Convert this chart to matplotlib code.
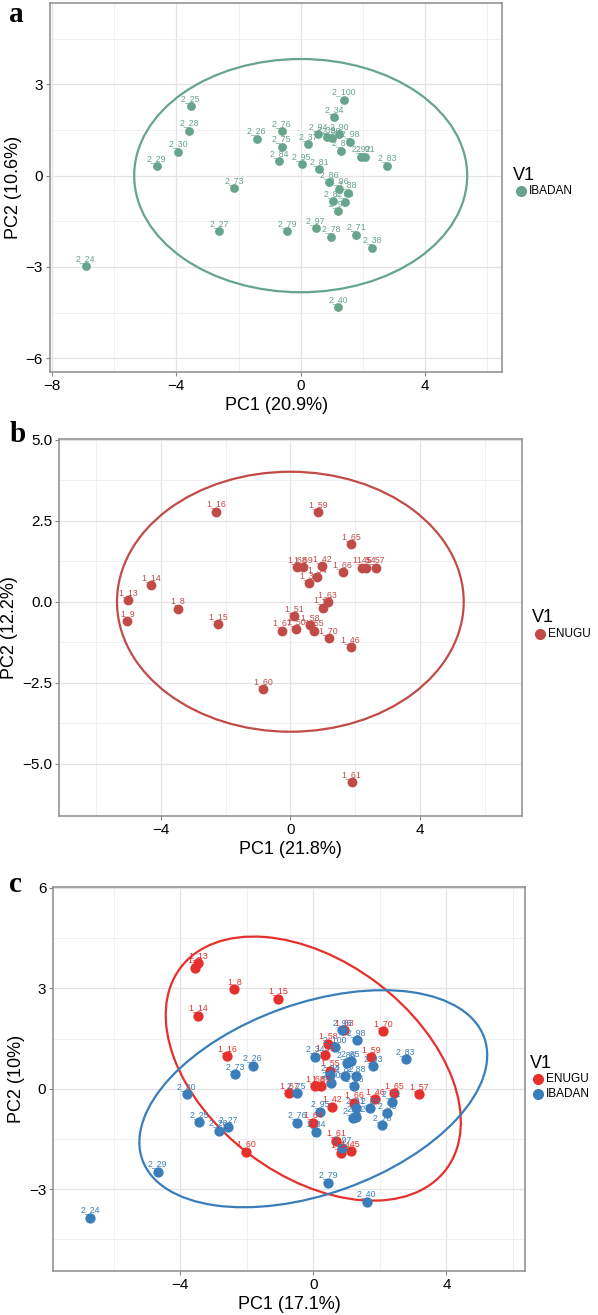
import numpy as np
import matplotlib
matplotlib.use("Agg")
import matplotlib.pyplot as plt
from matplotlib.patches import Ellipse
from matplotlib.lines import Line2D

plt.rcParams['font.family'] = ['Liberation Sans', 'DejaVu Sans']

# ---- panel a : IBADAN ----
a_labels = ['2_24', '2_25', '2_28', '2_30', '2_29', '2_73', '2_27', '2_26', '2_76', '2_75',
            '2_84', '2_79', '2_95', '2_81', '2_37', '2_94', '2_90', '2_39', '2_89', '2_98',
            '2_87', '2_100', '2_34', '2_92', '2_91', '2_83', '2_86', '2_96', '2_88', '2_82',
            '2_85', '2_93', '2_97', '2_78', '2_71', '2_38', '2_40']
a_pc1 = [-6.92, -3.54, -3.59, -3.94, -4.64, -2.14, -2.62, -1.42, -0.61, -0.61,
         -0.69, -0.43, 0.03, 0.59, 0.25, 0.57, 1.24, 0.84, 1.00, 1.59,
         1.30, 1.40, 1.08, 1.94, 2.07, 2.79, 0.92, 1.24, 1.51, 1.05,
         1.42, 1.21, 0.48, 0.98, 1.78, 2.31, 1.21]
a_pc2 = [-2.98, 2.29, 1.48, 0.79, 0.32, -0.41, -1.82, 1.21, 1.47, 0.95,
         0.48, -1.82, 0.37, 0.22, 1.04, 1.37, 1.37, 1.26, 1.24, 1.12,
         0.82, 2.49, 1.92, 0.62, 0.62, 0.33, -0.21, -0.43, -0.56, -0.84,
         -0.85, -1.17, -1.73, -2.00, -1.94, -2.37, -4.33]
a_ell = [0.0, 0.0, 5.36, 3.83, 0.0]   # centre x, centre y, semi-axis a, semi-axis b, angle

# ---- panel b : ENUGU ----
b_labels = ['1_16', '1_59', '1_65', '1_68', '1_69', '1_42', '1_34', '1_39', '1_66', '1_45',
            '1_54', '1_57', '1_63', '1_64', '1_51', '1_58', '1_55', '1_67', '1_50', '1_70',
            '1_46', '1_60', '1_61', '1_9', '1_13', '1_14', '1_8', '1_15']
b_pc1 = [-2.28, 0.86, 1.87, 0.22, 0.40, 0.97, 0.81, 0.58, 1.61, 2.20,
         2.35, 2.63, 1.15, 1.01, 0.12, 0.60, 0.73, -0.25, 0.18, 1.18,
         1.86, -0.83, 1.89, -5.03, -5.02, -4.31, -3.48, -2.22]
b_pc2 = [2.78, 2.76, 1.77, 1.06, 1.06, 1.10, 0.75, 0.57, 0.91, 1.05,
         1.05, 1.05, -0.02, -0.18, -0.44, -0.72, -0.89, -0.89, -0.85, -1.13,
         -1.41, -2.70, -5.57, -0.59, 0.05, 0.52, -0.21, -0.69]
b_ell = [0.0, 0.0, 5.35, 4.01, 0.0]

# ---- panel c : both sites ----
c_en_labels = ['1_13', '1_9', '1_8', '1_15', '1_14', '1_16', '1_60', '1_67', '1_70', '1_63',
               '1_59', '1_55', '1_68', '1_69', '1_42', '1_64', '1_66', '1_46', '1_65', '1_57',
               '1_61', '1_45', '1_54', '1_51', '1_58']
c_en_pc1 = [-3.45, -3.55, -2.37, -1.07, -3.45, -2.59, -2.03, -0.73, 2.10, 0.93,
            1.73, 0.50, 0.05, 0.23, 0.56, 0.00, 1.22, 1.86, 2.42, 3.17,
            0.68, 1.12, 0.82, 0.35, 0.45]
c_en_pc2 = [3.75, 3.62, 2.98, 2.69, 2.18, 0.98, -1.88, -0.14, 1.72, 1.75,
            0.94, 0.54, 0.08, 0.08, -0.54, -1.02, -0.42, -0.32, -0.14, -0.17,
            -1.55, -1.86, -1.91, 1.00, 1.35]
c_ib_labels = ['2_24', '2_29', '2_30', '2_25', '2_28', '2_27', '2_73', '2_26', '2_75', '2_76',
               '2_95', '2_84', '2_83', '2_93', '2_86', '2_85', '2_88', '2_82', '2_36', '2_96',
               '2_98', '2_97', '2_79', '2_40', '2_94', '2_90', '2_34', '2_100', '2_81', '2_92',
               '2_91', '2_89', '2_71', '2_38', '2_78']
c_ib_pc1 = [-6.71, -4.67, -3.80, -3.42, -2.84, -2.56, -2.35, -1.82, -0.50, -0.48,
            0.20, 0.08, 2.78, 1.80, 1.00, 1.12, 1.28, 0.94, 1.23, 0.87,
            1.30, 0.87, 0.45, 1.60, 0.50, 0.53, 0.05, 0.65, 1.28, 1.28,
            1.18, 1.70, 2.35, 2.22, 2.07]
c_ib_pc2 = [-3.86, -2.48, -0.16, -1.01, -1.26, -1.16, 0.44, 0.69, -0.14, -1.02,
            -0.69, -1.29, 0.89, 0.68, 0.78, 0.83, 0.38, 0.38, 0.08, 1.75,
            1.46, -1.76, -2.81, -3.38, 0.41, 0.18, 0.96, 1.25, -0.59, -0.84,
            -0.89, -0.59, -0.39, -0.74, -1.09]
c_en_ell = [0.0, 0.6, 5.0, 3.2, -37.0]
c_ib_ell = [0.0, -0.3, 5.45, 2.85, 19.5]

GREEN = '#66A48B'
BROWN_RED = '#C04B48'
RED = '#E5302B'
BLUE = '#3A7DBA'

W, H = 598, 1315
fig = plt.figure(figsize=(W / 100, H / 100), dpi=100)


def box(l, t, r, b):
    return [l / W, 1 - b / H, (r - l) / W, (b - t) / H]


def style(ax, xlim, ylim, xmaj, xmin, ymaj, ymin, yfmt):
    ax.set_xlim(xlim)
    ax.set_ylim(ylim)
    ax.set_xticks(xmaj)
    ax.set_xticks(xmin, minor=True)
    ax.set_yticks(ymaj)
    ax.set_yticks(ymin, minor=True)
    ax.set_xticklabels([('%g' % v).replace('-', '\u2212') for v in xmaj])
    ax.set_yticklabels([(yfmt % v).replace('-', '\u2212') for v in ymaj])
    ax.grid(True, which='major', color='#E3E3E8', lw=0.9)
    ax.grid(True, which='minor', color='#EEEEF2', lw=0.6)
    ax.set_axisbelow(True)
    ax.tick_params(which='major', length=3, width=0.8, color='#888888', labelsize=11, pad=2)
    ax.tick_params(which='minor', length=0)
    for s in ax.spines.values():
        s.set_color('#8C8C8C')
        s.set_linewidth(1.1)


def pts(ax, x, y, labels, color, size):
    ax.scatter(x, y, s=size, color=color, zorder=3, linewidths=0)
    for xi, yi, lab in zip(x, y, labels):
        ax.annotate(lab, (xi, yi), xytext=(0, 5.5), textcoords='offset points',
                    ha='center', va='center', fontsize=6.3, color=color, zorder=4)


def ell(ax, e, color):
    ax.add_patch(Ellipse((e[0], e[1]), 2 * e[2], 2 * e[3], angle=e[4],
                         fill=False, color=color, lw=1.6, zorder=2))


def legend(x, y, names, colors):
    fig.text(x / W, 1 - y / H, 'V1', fontsize=13, va='center', ha='left')
    for i, (n, c) in enumerate(zip(names, colors)):
        yy = y + 16 + 14.7 * i
        fig.add_artist(Line2D([(x + 8) / W], [1 - yy / H], marker='o', ms=7,
                              color=c, transform=fig.transFigure, lw=0))
        fig.text((x + 16) / W, 1 - yy / H, n, fontsize=8.5, va='center', ha='left')


# panel a
ax = fig.add_axes(box(50, 3.3, 502.3, 372))
style(ax, (-8.07, 6.49), (-6.45, 5.66), [-8, -4, 0, 4], [-6, -2, 2, 6],
      [-6, -3, 0, 3], [-4.5, -1.5, 1.5, 4.5], '%g')
ell(ax, a_ell, GREEN)
pts(ax, a_pc1, a_pc2, a_labels, GREEN, 40)
ax.set_xlabel('PC1 (20.9%)', fontsize=13, labelpad=3)
ax.set_ylabel('PC2 (10.6%)', fontsize=13, labelpad=3)
legend(513, 175, ['IBADAN'], [GREEN])
fig.text(9 / W, 1 - 14 / H, 'a', fontsize=21, fontweight='bold',
         family='Liberation Serif', va='center', ha='left')

# panel b
ax = fig.add_axes(box(59, 439, 521.7, 816))
style(ax, (-7.14, 7.14), (-6.61, 5.02), [-4, 0, 4], [-6, -2, 2, 6],
      [-5, -2.5, 0, 2.5, 5], [-3.75, -1.25, 1.25, 3.75], '%.1f')
ell(ax, b_ell, BROWN_RED)
pts(ax, b_pc1, b_pc2, b_labels, BROWN_RED, 50)
ax.set_xlabel('PC1 (21.8%)', fontsize=13, labelpad=3)
ax.set_ylabel('PC2 (12.2%)', fontsize=13, labelpad=3)
legend(532, 618, ['ENUGU'], [BROWN_RED])
fig.text(10 / W, 1 - 434 / H, 'b', fontsize=21, fontweight='bold',
         family='Liberation Serif', va='center', ha='left')

# panel c
ax = fig.add_axes(box(53.3, 887.3, 525, 1271))
style(ax, (-7.81, 6.36), (-5.45, 6.02), [-4, 0, 4], [-6, -2, 2, 6],
      [-3, 0, 3, 6], [-4.5, -1.5, 1.5, 4.5], '%g')
ell(ax, c_en_ell, RED)
ell(ax, c_ib_ell, BLUE)
pts(ax, c_en_pc1, c_en_pc2, c_en_labels, RED, 55)
pts(ax, c_ib_pc1, c_ib_pc2, c_ib_labels, BLUE, 55)
ax.set_xlabel('PC1 (17.1%)', fontsize=13, labelpad=3)
ax.set_ylabel('PC2 (10%)', fontsize=13, labelpad=3)
legend(530, 1063, ['ENUGU', 'IBADAN'], [RED, BLUE])
fig.text(9 / W, 1 - 885 / H, 'c', fontsize=21, fontweight='bold',
         family='Liberation Serif', va='center', ha='left')

fig.savefig('out.png', dpi=100)
